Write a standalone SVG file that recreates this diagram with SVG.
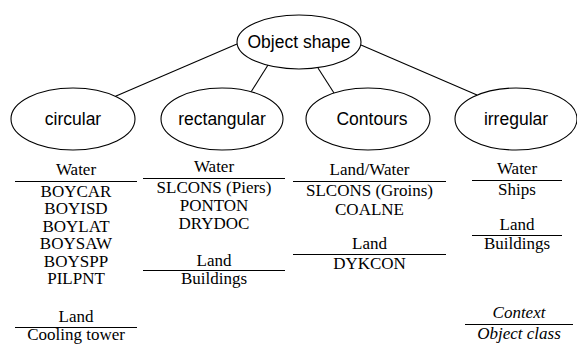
<svg xmlns="http://www.w3.org/2000/svg" width="577" height="345" viewBox="0 0 577 345">
<style>
.node ellipse{fill:#fff;stroke:#000;stroke-width:1.1}
.node text{font-family:"Liberation Sans",Arial,sans-serif;font-size:17.5px;text-anchor:middle;fill:#000}
.edge{stroke:#000;stroke-width:1.1;fill:none}
.tab text{font-family:"Liberation Serif","Times New Roman",serif;font-size:17px;text-anchor:middle;fill:#000}
.tab text.it{font-style:italic}
.rule{stroke:#000;stroke-width:1.2}
</style>
<rect width="577" height="345" fill="#fff"/>
<g id="connectors">
<line class="edge" x1="237" y1="44" x2="115.5" y2="96.3"/>
<line class="edge" x1="268" y1="65" x2="251" y2="92"/>
<line class="edge" x1="318" y1="68" x2="334" y2="93"/>
<line class="edge" x1="361" y1="45" x2="477" y2="95"/>
</g>
<g id="object-shape" class="node"><ellipse cx="299" cy="42" rx="62" ry="27"/><text x="299" y="48">Object shape</text></g>
<g id="circular" class="node"><ellipse cx="73" cy="119" rx="62" ry="31"/><text x="73" y="125">circular</text></g>
<g id="rectangular" class="node"><ellipse cx="222" cy="119" rx="61" ry="31"/><text x="222" y="125">rectangular</text></g>
<g id="contours" class="node"><ellipse cx="368" cy="119" rx="62" ry="31"/><text x="372" y="125">Contours</text></g>
<g id="irregular" class="node"><ellipse cx="516" cy="119" rx="61" ry="31"/><text x="516" y="125">irregular</text></g>
<g id="table-circular" class="tab">
<text x="76" y="174.5">Water</text>
<line class="rule" x1="15" y1="181.5" x2="137" y2="181.5"/>
<text x="76" y="196.5">BOYCAR</text>
<text x="76" y="214">BOYISD</text>
<text x="76" y="231.5">BOYLAT</text>
<text x="76" y="249">BOYSAW</text>
<text x="76" y="266.5">BOYSPP</text>
<text x="76" y="284">PILPNT</text>
<text x="76" y="322">Land</text>
<line class="rule" x1="15" y1="327.5" x2="137" y2="327.5"/>
<text x="76" y="339.5">Cooling tower</text>
</g>
<g id="table-rectangular" class="tab">
<text x="214" y="172">Water</text>
<line class="rule" x1="143" y1="178.5" x2="285" y2="178.5"/>
<text x="214" y="192.5">SLCONS (Piers)</text>
<text x="214" y="210.5">PONTON</text>
<text x="214" y="228.5">DRYDOC</text>
<text x="214" y="266">Land</text>
<line class="rule" x1="143" y1="270.5" x2="285" y2="270.5"/>
<text x="214" y="283.5">Buildings</text>
</g>
<g id="table-contours" class="tab">
<text x="369.5" y="175">Land/Water</text>
<line class="rule" x1="293" y1="181.5" x2="446" y2="181.5"/>
<text x="369.5" y="196">SLCONS (Groins)</text>
<text x="369.5" y="214.5">COALNE</text>
<text x="369.5" y="249">Land</text>
<line class="rule" x1="293" y1="254.5" x2="446" y2="254.5"/>
<text x="369.5" y="268.5">DYKCON</text>
</g>
<g id="table-irregular" class="tab">
<text x="517" y="174">Water</text>
<line class="rule" x1="472" y1="180.5" x2="562" y2="180.5"/>
<text x="517" y="195">Ships</text>
<text x="517" y="230">Land</text>
<line class="rule" x1="472" y1="235.5" x2="562" y2="235.5"/>
<text x="517" y="249">Buildings</text>
</g>
<g id="legend" class="tab">
<text class="it" x="519" y="318">Context</text>
<line class="rule" x1="465" y1="324.5" x2="573" y2="324.5"/>
<text class="it" x="519" y="339">Object class</text>
</g>
</svg>
